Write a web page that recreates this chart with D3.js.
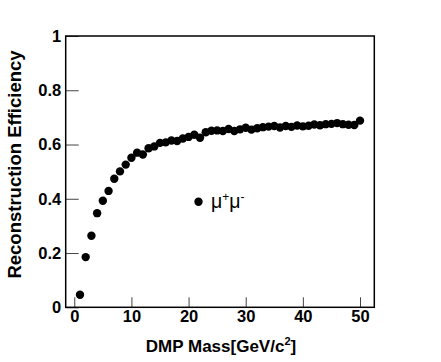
<!DOCTYPE html>
<html>
<head>
<meta charset="utf-8">
<script src="https://cdn.jsdelivr.net/npm/d3@7"></script>
<style>
  html, body { margin: 0; padding: 0; background: #fff; }
  svg { display: block; }
</style>
</head>
<body>
<script>
// ---- data ----
const masses = [1,2,3,4,5,6,7,8,9,10,11,12,13,14,15,16,17,18,19,20,21,22,23,24,25,
                26,27,28,29,30,31,32,33,34,35,36,37,38,39,40,41,42,43,44,45,46,47,48,49,50];
const efficiency = [0.046,0.185,0.264,0.347,0.393,0.429,0.474,0.501,0.526,0.551,
                    0.570,0.563,0.586,0.593,0.606,0.608,0.615,0.613,0.622,0.628,
                    0.636,0.625,0.645,0.651,0.652,0.650,0.657,0.650,0.656,0.662,
                    0.655,0.660,0.664,0.666,0.668,0.663,0.668,0.665,0.670,0.667,
                    0.669,0.674,0.671,0.675,0.676,0.679,0.675,0.673,0.672,0.688];
const xTicks = [0,10,20,30,40,50];
const yTicks = [0,0.2,0.4,0.6,0.8,1];
const yTickLabels = ["0","0.2","0.4","0.6","0.8","1"];
const xTitle = "DMP Mass[GeV/c";
const yTitle = "Reconstruction Efficiency";
const legendLabel = "μ";

const W = 441, H = 362;
const pLeft = 65.7, pRight = 374.3, pTop = 36, pBottom = 307.3;

const svg = d3.select("body").append("svg").attr("width", W).attr("height", H);

const x = d3.scaleLinear().domain([-1.5, 52.5]).range([pLeft, pRight]);
const y = d3.scaleLinear().domain([0, 1]).range([pBottom, pTop]);

const font = "'Liberation Sans', Arial, Helvetica, sans-serif";

// x axis
const gx = svg.append("g").attr("transform", `translate(0,${pBottom})`)
  .call(d3.axisBottom(x).tickValues(xTicks).tickSize(-10).tickSizeOuter(0).tickPadding(2.5).tickFormat(d3.format("d")));
gx.select(".domain").remove();
gx.selectAll(".tick line").attr("stroke", "#444").attr("stroke-width", 1);
gx.selectAll(".tick text").attr("font-family", font).attr("font-weight", "bold")
  .attr("font-size", "16.5px").attr("fill", "#000");

// y axis
const gy = svg.append("g").attr("transform", `translate(${pLeft},0)`)
  .call(d3.axisLeft(y).tickValues(yTicks).tickSize(-13).tickSizeOuter(0).tickPadding(4.5)
    .tickFormat((d, i) => yTickLabels[i]));
gy.select(".domain").remove();
gy.selectAll(".tick line").attr("stroke", "#444").attr("stroke-width", 1);
gy.selectAll(".tick text").attr("font-family", font).attr("font-weight", "bold")
  .attr("font-size", "16.5px").attr("fill", "#000");

// frame
svg.append("rect").attr("x", pLeft).attr("y", pTop)
  .attr("width", pRight - pLeft).attr("height", pBottom - pTop)
  .attr("fill", "none").attr("stroke", "#000").attr("stroke-width", 1.5);

// points
svg.append("g").selectAll("circle").data(masses).join("circle")
  .attr("cx", (d) => x(d))
  .attr("cy", (d, i) => y(efficiency[i]))
  .attr("r", 4.2)
  .attr("fill", "#000");

// legend
svg.append("circle").attr("cx", 198.5).attr("cy", 201.7).attr("r", 4.2).attr("fill", "#000");
const lt = svg.append("text").attr("x", 211).attr("y", 207.5)
  .attr("font-family", font).attr("font-size", "19.5px").attr("fill", "#000");
lt.append("tspan").text(legendLabel);
lt.append("tspan").attr("dy", -7).attr("font-size", "12px").text("+");
lt.append("tspan").attr("dy", 7).text(legendLabel);
lt.append("tspan").attr("dy", -7).attr("font-size", "12px").text("-");

// x title
const xt = svg.append("text").attr("x", (pLeft + pRight) / 2 + 1).attr("y", 351.5)
  .attr("text-anchor", "middle").attr("font-family", font).attr("font-weight", "bold")
  .attr("font-size", "17px").attr("fill", "#000");
xt.append("tspan").text(xTitle);
xt.append("tspan").attr("dy", -7).attr("font-size", "11px").text("2");
xt.append("tspan").attr("dy", 7).text("]");

// y title
svg.append("text").attr("transform", `translate(21,164.5) rotate(-90)`)
  .attr("text-anchor", "middle").attr("font-family", font).attr("font-weight", "bold")
  .attr("font-size", "18.5px").attr("fill", "#000").text(yTitle);
</script>
</body>
</html>
